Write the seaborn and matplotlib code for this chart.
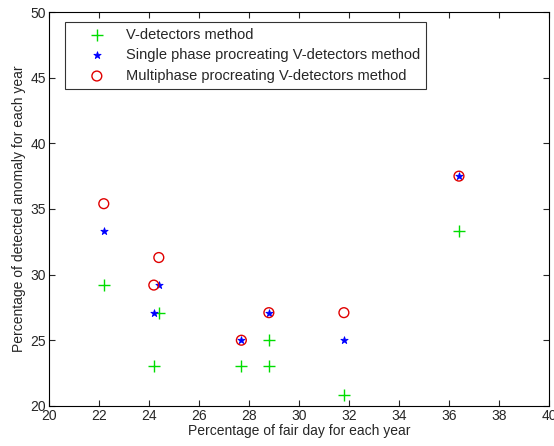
import matplotlib
matplotlib.use("Agg")
import matplotlib.pyplot as plt
import seaborn as sns
import pandas as pd

sns.set_style("white")
plt.rcParams['font.family'] = ['Liberation Sans', 'DejaVu Sans']

v_x = [22.2, 24.2, 24.4, 27.7, 28.8, 28.8, 31.8, 36.4]
v_y = [29.2, 23.0, 27.1, 23.0, 25.0, 23.0, 20.8, 33.3]
s_x = [22.2, 24.2, 24.4, 27.7, 28.8, 31.8, 36.4]
s_y = [33.3, 27.1, 29.2, 25.0, 27.1, 25.0, 37.5]
m_x = [22.2, 24.2, 24.4, 27.7, 28.8, 31.8, 36.4]
m_y = [35.4, 29.2, 31.3, 25.0, 27.1, 27.1, 37.5]
labels = ["V-detectors method",
          "Single phase procreating V-detectors method",
          "Multiphase procreating V-detectors method"]

fig = plt.figure(figsize=(5.54, 4.46), dpi=100)
ax = fig.add_axes([0.088, 0.09, 0.903, 0.883])

sns.scatterplot(x=v_x, y=v_y, ax=ax, marker='+', color='#00dd00', s=70, linewidth=1.0, label=labels[0])
sns.scatterplot(x=s_x, y=s_y, ax=ax, marker='*', color='#0000ff', s=30, linewidth=0.6, edgecolor='#0000ff', label=labels[1])
sns.scatterplot(x=m_x, y=m_y, ax=ax, marker='o', facecolor='none', edgecolor='#e00000', s=50, linewidth=1.0, label=labels[2])

ax.set_xlim(20, 40)
ax.set_ylim(20, 50)
ax.set_xticks(range(20, 41, 2))
ax.set_yticks(range(20, 51, 5))
ax.set_xlabel("Percentage of fair day for each year", fontsize=10, labelpad=1)
ax.set_ylabel("Percentage of detected anomaly for each year", fontsize=10, labelpad=3)
ax.tick_params(axis='both', which='both', direction='in', length=4, labelsize=10,
               top=True, right=True, bottom=True, left=True, width=0.8, pad=2)
for sp in ax.spines.values():
    sp.set_visible(True)
    sp.set_color('black')
    sp.set_linewidth(0.8)

leg = ax.legend(loc='upper left', fontsize=10.5, frameon=True, fancybox=False,
                edgecolor='black', borderpad=0.4, handlelength=3.6, handletextpad=0.2,
                labelspacing=0.45, borderaxespad=0, bbox_to_anchor=(0.032, 0.975))
leg.get_frame().set_linewidth(0.8)

fig.savefig("out.png", dpi=100, facecolor='white')
